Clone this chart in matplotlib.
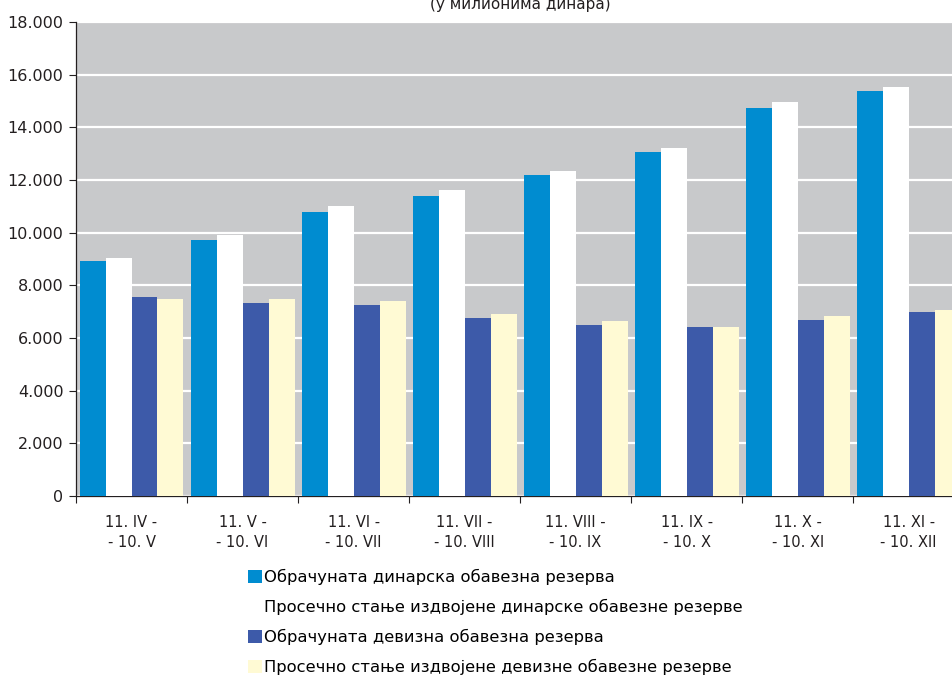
import numpy as np
import matplotlib
matplotlib.use('Agg')
import matplotlib.pyplot as plt
from matplotlib.patches import Patch

plt.rcParams['font.family'] = ['DejaVu Sans']

# Data (у милионима динара)
periods = ['11. IV -\n- 10. V', '11. V -\n- 10. VI', '11. VI -\n- 10. VII',
           '11. VII -\n- 10. VIII', '11. VIII -\n- 10. IX', '11. IX -\n- 10. X',
           '11. X -\n- 10. XI', '11. XI -\n- 10. XII']
din_obr = [8910, 9740, 10770, 11380, 12180, 13060, 14730, 15380]
din_izd = [9020, 9900, 11000, 11610, 12330, 13210, 14960, 15540]
dev_obr = [7570, 7340, 7270, 6770, 6500, 6420, 6700, 7000]
dev_izd = [7500, 7500, 7420, 6930, 6630, 6420, 6850, 7080]

labels = ['Обрачуната динарска обавезна резерва',
          'Просечно стање издвојене динарске обавезне резерве',
          'Обрачуната девизна обавезна резерва',
          'Просечно стање издвојене девизне обавезне резерве']
colors = ['#008cd0', '#ffffff', '#3d5aa9', '#fffad4']

fig = plt.figure(figsize=(9.52, 6.75), dpi=100)
ax = fig.add_axes([76/952, 1-496/675, 1-76/952, 474/675])
ax.set_facecolor('#c8c9cb')

x = np.arange(len(periods))
w = 0.234
series = [din_obr, din_izd, dev_obr, dev_izd]
for i, s in enumerate(series):
    ax.bar(x + (i-1.5)*w, s, w, color=colors[i], zorder=3)

ax.set_ylim(0, 18000)
ax.set_xlim(-0.5, 7.39)
ax.set_yticks(np.arange(0, 18001, 2000))
ax.set_yticklabels(['0' if v == 0 else '{:,}'.format(v).replace(',', '.')
                    for v in range(0, 18001, 2000)], fontsize=11.5, color='#231f20')
ax.yaxis.grid(True, color='white', lw=1.6, zorder=1)
ax.tick_params(axis='y', length=5, width=0.8, color='#231f20', pad=4)

ax.set_xticks(x)
ax.set_xticklabels(periods, fontsize=10.5, color='#231f20', linespacing=1.4)
ax.set_xticks(np.arange(-0.5, 7.5, 1), minor=True)
ax.tick_params(axis='x', which='major', length=0, pad=14)
ax.tick_params(axis='x', which='minor', length=5, width=0.8, color='#231f20')

for sp in ['top', 'right']:
    ax.spines[sp].set_visible(False)
for sp in ['left', 'bottom']:
    ax.spines[sp].set_color('#231f20')
    ax.spines[sp].set_linewidth(0.9)

fig.text(520/952, 1-9/675, '(у милионима динара)', ha='center', va='baseline',
         fontsize=11, color='#231f20')

handles = [Patch(facecolor=c, edgecolor='none') for c in colors]
fig.legend(handles, labels, loc='upper left', bbox_to_anchor=(248/952, 1-569/675),
           frameon=False, fontsize=11.8, handlelength=0.85, handleheight=0.85,
           handletextpad=0.15, labelspacing=0.85, borderaxespad=0, borderpad=0)

fig.savefig('out.png', dpi=100)
